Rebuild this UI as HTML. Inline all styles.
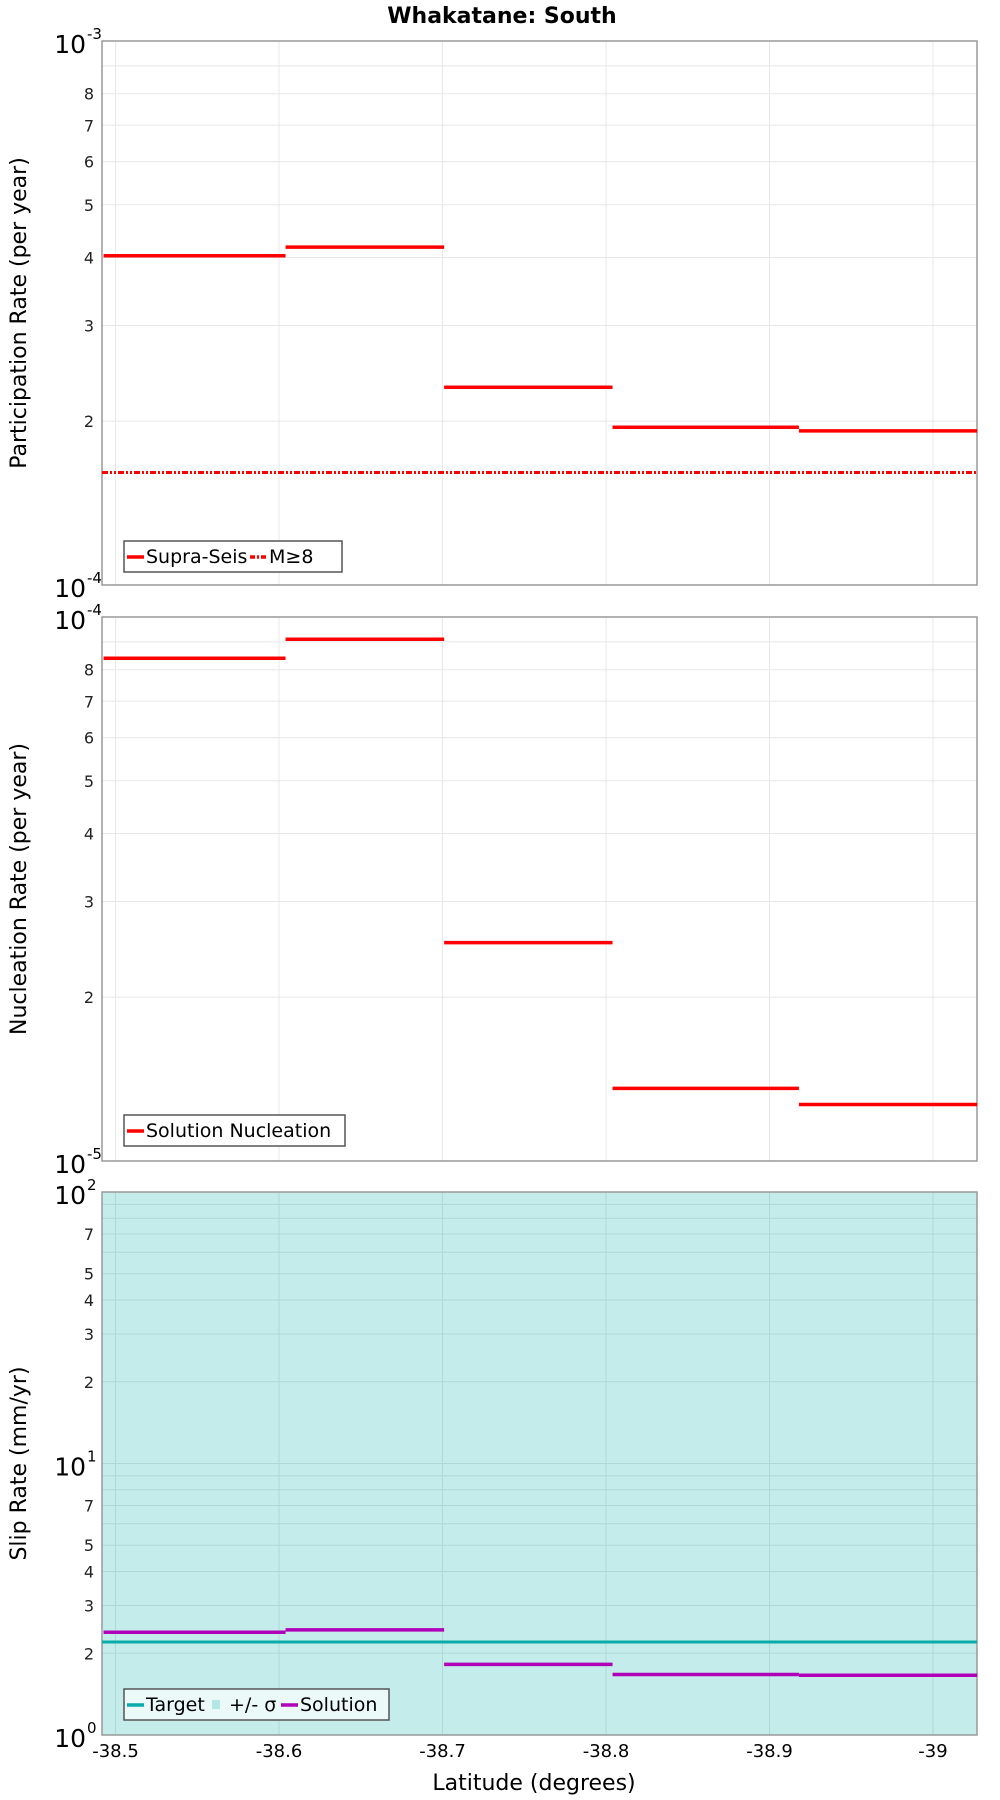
<!DOCTYPE html>
<html><head><meta charset="utf-8"><style>
body{margin:0;background:#fff;}
svg{display:block;font-family:"DejaVu Sans","Liberation Sans",sans-serif;}
</style></head><body>
<svg id="chart" width="1000" height="1800" viewBox="0 0 1000 1800">
<text x="502" y="23" text-anchor="middle" font-weight="bold" font-size="22">Whakatane: South</text>
<text x="534" y="1790" text-anchor="middle" font-size="22">Latitude (degrees)</text>
</svg>
<script>
const edges = [-38.4927, -38.604, -38.701, -38.804, -38.918, -39.027];
const xTicks = [-38.5, -38.6, -38.7, -38.8, -38.9, -39];
const xTickLabels = ["-38.5", "-38.6", "-38.7", "-38.8", "-38.9", "-39"];
const supraSeis = [4.03e-4, 4.18e-4, 2.31e-4, 1.95e-4, 1.92e-4];
const mGe8 = [1.61e-4];
const nucleation = [8.4e-5, 9.1e-5, 2.52e-5, 1.36e-5, 1.27e-5];
const slipTarget = [2.2];
const slipSolution = [2.39, 2.44, 1.82, 1.67, 1.66];

const svg = document.getElementById('chart');
const NS = 'http://www.w3.org/2000/svg';
const L = 102, R = 977;
function xs(lat){ return 115.5 + (-38.5 - lat) * 1635; }
function mk(tag, attrs, parent){ const e = document.createElementNS(NS, tag); for (const k in attrs) e.setAttribute(k, attrs[k]); (parent||svg).appendChild(e); return e; }

function panel(top, bot, lo, hi, labelSet, bg, grid, title, name){
  const g = mk('g', {});
  
  
  const ys = v => bot - (Math.log10(v) - lo) / (hi - lo) * (bot - top);
  mk('rect', {x:L, y:top, width:R-L, height:bot-top, fill:bg}, g);
  for (let d = lo; d < hi; d++) for (let m = 2; m <= 9; m++) {
    const y = ys(m * Math.pow(10, d));
    mk('line', {x1:L, x2:R, y1:y, y2:y, stroke:grid, 'stroke-width':1}, g);
    if (labelSet.includes(m)) {
      const t = mk('text', {x:94, y:y+6, 'text-anchor':'end', 'font-size':16, fill:'#222'}, g);
      t.textContent = m;
      
      
    }
  }
  for (let d = lo; d <= hi; d++) {
    const y = ys(Math.pow(10, d));
    mk('line', {x1:L, x2:R, y1:y, y2:y, stroke:grid}, g);
    const t = mk('text', {x:86, y:y+12, 'text-anchor':'end', 'font-size':25}, g);
    t.textContent = '10';
    
    
    const s = mk('text', {x:87, y:y-2, 'font-size':15}, g);
    s.textContent = String(d);
    
    
  }
  xTicks.forEach(v => { const x = xs(v); mk('line', {x1:x, x2:x, y1:top, y2:bot, stroke:grid}, g); });
  mk('rect', {x:L, y:top, width:R-L, height:bot-top, fill:'none', stroke:'#999', 'stroke-width':1.5}, g);
  const yt = mk('text', {x:0, y:0, 'text-anchor':'middle', 'font-size':22, transform:`translate(26,${(top+bot)/2}) rotate(-90)`}, g);
  yt.textContent = title;
  
  
  return {g, ys};
}
function steps(p, vals, color, name){
  vals.forEach((v, i) => {
    const l = mk('line', {x1:xs(edges[i]), x2:xs(edges[i+1]), y1:p.ys(v), y2:p.ys(v), stroke:color, 'stroke-width':3.5}, p.g);
    
    
  });
}
function hline(p, v, color, dash, name){
  const l = mk('line', {x1:L, x2:R, y1:p.ys(v), y2:p.ys(v), stroke:color, 'stroke-width':3}, p.g);
  if (dash) l.setAttribute('stroke-dasharray', dash);
  
  
}
function legend(p, x, y, w, items, bg){
  const lg = mk('g', {}, p.g);
  
  
  mk('rect', {x:x, y:y, width:w, height:31, fill:bg, stroke:'#555', 'stroke-width':1.5}, lg);
  let cx = x + 3;
  items.forEach(it => {
    if (it.box) mk('rect', {x:cx+2, y:y+11, width:8, height:9, fill:it.color}, lg);
    else mk('line', {x1:cx, x2:cx+17, y1:y+16, y2:y+16, stroke:it.color, 'stroke-width':3.5, 'stroke-dasharray':it.dash||'none'}, lg);
    const t = mk('text', {x:cx+19, y:y+22, 'font-size':19}, lg);
    t.textContent = it.label;
    
    
    cx += 19 + it.w;
  });
}

const p1 = panel(41, 585, -4, -3, [2,3,4,5,6,7,8], '#fff', '#e8e8e8', 'Participation Rate (per year)', 'participation-panel');
hline(p1, mGe8[0], '#f00', '6 2 2 2 2 2', 'm-ge-8-line');
steps(p1, supraSeis, '#f00', 'supra-seis-step');
legend(p1, 124, 541, 218, [{label:'Supra-Seis', color:'#f00', w:104}, {label:'M≥8', color:'#f00', dash:'5 2 2 2', w:50}], '#fff');

const p2 = panel(617, 1161, -5, -4, [2,3,4,5,6,7,8], '#fff', '#e8e8e8', 'Nucleation Rate (per year)', 'nucleation-panel');
steps(p2, nucleation, '#f00', 'nucleation-step');
legend(p2, 124, 1115, 221, [{label:'Solution Nucleation', color:'#f00', w:190}], '#fff');

const p3 = panel(1192, 1735, 0, 2, [2,3,4,5,7], '#c4ecea', '#aed8d6', 'Slip Rate (mm/yr)', 'slip-rate-panel');
hline(p3, slipTarget[0], '#0aabab', null, 'target-line');
steps(p3, slipSolution, '#b000b8', 'solution-step');
legend(p3, 124, 1689, 265, [{label:'Target', color:'#0aabab', w:64}, {label:'+/- σ', box:true, color:'#b4e6e6', w:52}, {label:'Solution', color:'#b000b8', w:90}], '#ecf9f9');

xTicks.forEach((v, i) => {
  const t = mk('text', {x:xs(v), y:1757, 'text-anchor':'middle', 'font-size':18});
  t.textContent = xTickLabels[i];
  
  
});
</script>
</body></html>
